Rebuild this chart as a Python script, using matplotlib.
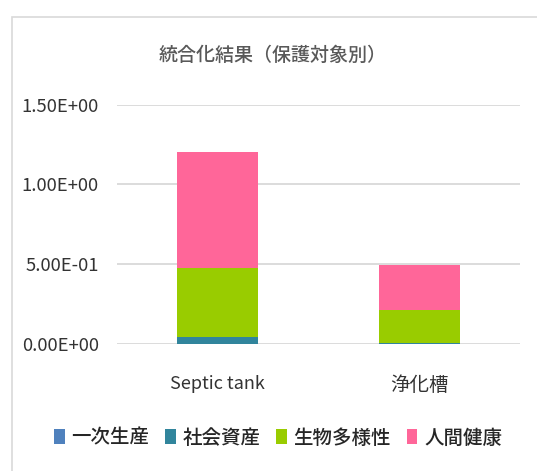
import matplotlib
matplotlib.use('Agg')
import matplotlib.pyplot as plt
from matplotlib.patches import Rectangle
import numpy as np

plt.rcParams['font.family'] = ['Noto Sans CJK JP', 'DejaVu Sans']

# data
categories = ['Septic tank', '浄化槽']
series_names = ['一次生産', '社会資産', '生物多様性', '人間健康']
primary_production = [0.002, 0.002]
social_assets = [0.044, 0.006]
biodiversity = [0.433, 0.205]
human_health = [0.721, 0.281]
series_colors = ['#4F81BD', '#31859C', '#99CC00', '#FF6699']
yticks = [0.0, 0.5, 1.0, 1.5]
ytick_labels = ['0.00E+00', '5.00E-01', '1.00E+00', '1.50E+00']

fig = plt.figure(figsize=(5.37, 4.71), dpi=100)
fig.patch.set_facecolor('white')

# chart frame (light grey border like the spreadsheet chart area)
frame = Rectangle((12 / 537, -0.1), 1.2, (471 - 17) / 471 + 0.1,
                  transform=fig.transFigure, facecolor='none',
                  edgecolor='#D9D9D9', linewidth=1.2, zorder=0)
fig.patches.append(frame)

ax = fig.add_axes([117 / 537, (471 - 344) / 471, 403 / 537, 239.5 / 471])

x = np.arange(len(categories))
bottom = np.zeros(len(categories))
for name, vals, col in zip(series_names,
                           [primary_production, social_assets, biodiversity, human_health],
                           series_colors):
    ax.bar(x, vals, width=0.4, bottom=bottom, color=col, label=name, zorder=2)
    bottom += np.array(vals)

ax.set_xlim(-0.5, 1.5)
ax.set_ylim(0, 1.5)
ax.set_yticks(yticks)
ax.set_yticklabels(ytick_labels, fontsize=13.3, color='#333333')
ax.set_xticks(x)
ax.set_xticklabels(categories, fontsize=14, color='#333333')
ax.get_xticklabels()[0].set_fontsize(13)
ax.tick_params(axis='both', length=0)
ax.tick_params(axis='y', pad=13)
ax.tick_params(axis='x', pad=22)
ax.yaxis.grid(True, color='#D9D9D9', linewidth=1.3, zorder=0)
ax.set_axisbelow(True)
for s in ax.spines.values():
    s.set_visible(False)

fig.text(273 / 537, 1 - 55 / 471, '統合化結果（保護対象別）', ha='center', va='center',
         fontsize=13.7, color='#595959', fontweight='medium')

handles = [Rectangle((0, 0), 1, 1, facecolor=c) for c in series_colors]
fig.legend(handles, series_names, loc='center', bbox_to_anchor=(278 / 537, 1 - 438 / 471),
           ncol=4, frameon=False, handlelength=0.55, handleheight=0.8,
           handletextpad=0.35, columnspacing=0.8, labelcolor='#262626',
           prop={'size': 14, 'weight': 'medium'})

fig.savefig('out.png', dpi=100)
